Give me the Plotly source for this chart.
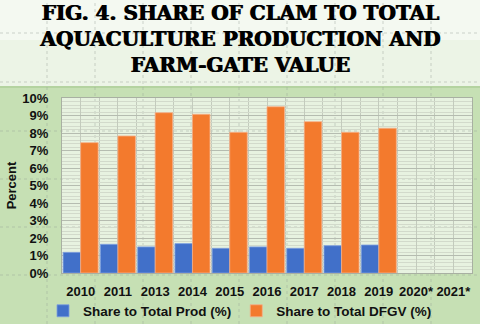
import plotly.graph_objects as go

years = ["2010", "2011", "2013", "2014", "2015", "2016", "2017", "2018", "2019", "2020*", "2021*"]
share_prod = [1.18, 1.64, 1.49, 1.68, 1.41, 1.49, 1.41, 1.56, 1.60, None, None]
share_dfgv = [7.45, 7.83, 9.16, 9.07, 8.04, 9.50, 8.65, 8.04, 8.27, None, None]
ytick_vals = list(range(0, 11))
ytick_text = [f"{v}%" for v in ytick_vals]

xpos = list(range(len(years)))
FAM = "Liberation Sans, Arial, sans-serif"
bold = dict(family=FAM, size=13, color="#111111", weight="bold")
legfont = dict(family=FAM, size=13.5, color="#111111", weight="bold")

W, H = 480, 324
ML, MR, MT, MB = 62, 8, 98, 51
PW, PH = W - ML - MR, H - MT - MB


def px2x(px):
    return (px - ML) / PW


def px2y(py):
    return (H - MB - py) / PH


fig = go.Figure()
fig.add_trace(go.Bar(x=xpos, y=share_prod, name="Share to Total Prod (%)",
                     marker=dict(color="#4170c9", line=dict(color="#7d9fe0", width=0.8))))
fig.add_trace(go.Bar(x=xpos, y=share_dfgv, name="Share to Total DFGV (%)",
                     marker=dict(color="#f37a2d", line=dict(color="#f6b089", width=0.8))))

# title area background (lighter) above the green panel
fig.add_shape(type="rect", xref="paper", yref="paper", x0=px2x(0), x1=px2x(W), y0=px2y(87), y1=px2y(0),
              fillcolor="#ecf4e6", line=dict(width=0), layer="below")
fig.add_shape(type="rect", xref="paper", yref="paper", x0=px2x(0), x1=px2x(W), y0=px2y(40), y1=px2y(0),
              fillcolor="#f4f9f1", line=dict(width=0), layer="below")
fig.add_shape(type="line", xref="paper", yref="paper", x0=px2x(0), x1=px2x(W), y0=px2y(87), y1=px2y(87),
              line=dict(color="#b4d3a0", width=2), layer="below")
# faint slide guide dots
for gx in [47, 95, 143, 191, 239, 287, 335, 383, 431]:
    fig.add_shape(type="line", xref="paper", yref="paper", x0=px2x(gx), x1=px2x(gx), y0=px2y(H), y1=px2y(0),
                  line=dict(color="rgba(150,160,150,0.45)", width=1, dash="dot"), layer="below")
for gy in [33, 82, 131, 179, 227, 275]:
    fig.add_shape(type="line", xref="paper", yref="paper", x0=px2x(0), x1=px2x(W), y0=px2y(gy), y1=px2y(gy),
                  line=dict(color="rgba(150,160,150,0.45)", width=1, dash="dot"), layer="below")

fig.update_layout(
    width=W, height=H,
    margin=dict(l=ML, r=MR, t=MT, b=MB, autoexpand=False),
    paper_bgcolor="#c6e0b4",
    plot_bgcolor="rgba(236,244,230,0.88)",
    barmode="group", bargap=0.06, bargroupgap=0.0,
    title=dict(
        text="FIG. 4. SHARE OF CLAM TO TOTAL<br>AQUACULTURE PRODUCTION AND<br>FARM-GATE VALUE",
        x=0.5, xref="container", xanchor="center",
        y=1 - 20 / H, yref="container", yanchor="middle",
        font=dict(family="DejaVu Serif", size=20, color="#000000", weight="bold",
                  shadow="1px 0px 0px #000000"),
    ),
    legend=dict(orientation="h", x=0.5, xanchor="center", xref="container",
                y=1 - 311 / H, yref="container", yanchor="middle",
                font=legfont, bgcolor="rgba(0,0,0,0)", itemwidth=30, traceorder="normal"),
    showlegend=True,
)
fig.update_xaxes(
    range=[-0.5, len(years) - 0.5],
    tickmode="array", tickvals=xpos, ticktext=years, tickfont=bold,
    tickangle=0, ticklabelstandoff=6, automargin=False,
    showgrid=True, gridcolor="#c3cbbd", gridwidth=1,
    minor=dict(tick0=-0.5, dtick=1, showgrid=True, gridcolor="#c3cbbd", gridwidth=1),
    showline=True, linecolor="#a8b0a2", mirror=True, linewidth=1,
    ticks="", zeroline=False,
)
fig.update_yaxes(
    range=[0, 10], tickmode="array", tickvals=ytick_vals, ticktext=ytick_text, tickfont=bold,
    ticklabelstandoff=10, automargin=False,
    showgrid=True, gridcolor="#b5bcb0", gridwidth=1.2,
    minor=dict(dtick=0.2, showgrid=True, gridcolor="#d2dacb", gridwidth=1),
    showline=True, linecolor="#a8b0a2", mirror=True, linewidth=1,
    title=dict(text="Percent", font=bold, standoff=2),
    zeroline=False, ticks="",
)
fig.write_html("out.html")
